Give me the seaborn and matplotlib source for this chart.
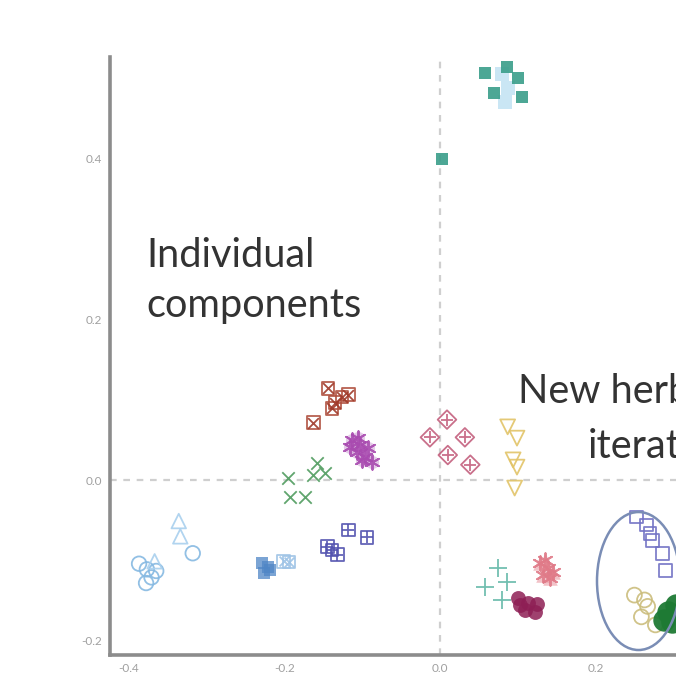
import matplotlib
matplotlib.use("Agg")
import matplotlib.pyplot as plt
import seaborn as sns
from matplotlib.patches import Ellipse

sns.set_style("white")
plt.rcParams['font.family'] = ['Lato', 'DejaVu Sans']

# ---- data ----
teal_sq_x = [0.058, 0.086, 0.100, 0.069, 0.105, 0.003]
teal_sq_y = [0.506, 0.513, 0.499, 0.481, 0.476, 0.399]
sky_top_x = [0.080, 0.087, 0.083]
sky_top_y = [0.505, 0.487, 0.470]
lb_circ_x = [-0.387, -0.377, -0.365, -0.371, -0.378, -0.318]
lb_circ_y = [-0.104, -0.111, -0.113, -0.121, -0.128, -0.091]
lb_tri_x = [-0.336, -0.334, -0.367]
lb_tri_y = [-0.051, -0.070, -0.101]
blue_sq_x = [-0.229, -0.221, -0.226, -0.219]
blue_sq_y = [-0.103, -0.108, -0.116, -0.112]
pale_sqx_x = [-0.201, -0.194]
pale_sqx_y = [-0.101, -0.102]
brown_x = [-0.144, -0.126, -0.135, -0.118, -0.139, -0.163]
brown_y = [0.114, 0.103, 0.096, 0.106, 0.089, 0.071]
mag_x = [-0.113, -0.103, -0.093, -0.107, -0.096, -0.087, -0.100, -0.116, -0.105]
mag_y = [0.050, 0.043, 0.040, 0.035, 0.029, 0.022, 0.025, 0.041, 0.052]
green_x = [-0.195, -0.158, -0.148, -0.163, -0.193, -0.174]
green_y = [0.002, 0.021, 0.009, 0.006, -0.021, -0.021]
indigo_x = [-0.139, -0.145, -0.132, -0.118, -0.094]
indigo_y = [-0.087, -0.083, -0.093, -0.062, -0.071]
pink_x = [0.009, -0.013, 0.032, 0.010, 0.039]
pink_y = [0.075, 0.053, 0.053, 0.031, 0.019]
gold_x = [0.087, 0.099, 0.094, 0.099, 0.096]
gold_y = [0.066, 0.052, 0.025, 0.016, -0.010]
tealp_x = [0.075, 0.086, 0.058, 0.080]
tealp_y = [-0.109, -0.127, -0.133, -0.149]
salmon_x = [0.129, 0.139, 0.145, 0.132, 0.141, 0.135]
salmon_y = [-0.103, -0.109, -0.114, -0.118, -0.122, -0.099]
maroon_x = [0.100, 0.113, 0.125, 0.109, 0.122, 0.103]
maroon_y = [-0.147, -0.153, -0.154, -0.161, -0.164, -0.155]
purple_x = [0.253, 0.266, 0.270, 0.273, 0.286, 0.290]
purple_y = [-0.046, -0.056, -0.066, -0.075, -0.091, -0.112]
khaki_x = [0.250, 0.263, 0.267, 0.259, 0.277]
khaki_y = [-0.143, -0.149, -0.157, -0.170, -0.180]
dgreen_x = [0.293, 0.304, 0.298, 0.288]
dgreen_y = [-0.164, -0.155, -0.176, -0.174]

xticks = [-0.4, -0.2, 0.0, 0.2]
yticks = [-0.2, 0.0, 0.2, 0.4]

fig = plt.figure(figsize=(6.76, 6.76), dpi=100)
ax = fig.add_axes([110/676, 1-655/676, 1-110/676, (655-57)/676])
ax.set_xlim(-0.4244, 0.3035)
ax.set_ylim(-0.2174, 0.5255)

ax.axhline(0, color='#cfcfcf', lw=1.6, ls=(0, (3, 3)), zorder=0)
ax.axvline(0, color='#cfcfcf', lw=1.6, ls=(0, (3, 3)), zorder=0)

def filled(x, y, m, c, s=70, a=0.9):
    sns.scatterplot(x=x, y=y, marker=m, s=s, color=c, alpha=a, linewidth=0, ax=ax)

def hollow(x, y, m, c, s=70, lw=1.3, a=0.9):
    sns.scatterplot(x=x, y=y, marker=m, s=s, facecolors='none', edgecolor=c,
                    linewidth=lw, alpha=a, ax=ax)

def lines(x, y, m, c, s=70, lw=1.3, a=0.9):
    sns.scatterplot(x=x, y=y, marker=m, s=s, color=c, linewidth=lw, alpha=a, ax=ax)

filled(sky_top_x, sky_top_y, 's', '#b4dcf0', s=90, a=0.7)
filled(teal_sq_x, teal_sq_y, 's', '#3a9e8a', s=85)
hollow(lb_circ_x, lb_circ_y, 'o', '#86b9e2', s=110)
hollow(lb_tri_x, lb_tri_y, '^', '#a9d0ee', s=110)
filled(blue_sq_x, blue_sq_y, 's', '#4f86c6', s=80, a=0.75)
hollow(pale_sqx_x, pale_sqx_y, 's', '#9ec3e6', s=80)
lines(pale_sqx_x, pale_sqx_y, 'x', '#9ec3e6', s=50)
hollow(brown_x, brown_y, 's', '#b0503e', s=85)
lines(brown_x, brown_y, 'x', '#a03a2a', s=60)
filled(mag_x, mag_y, 'o', '#c58bcc', s=90, a=0.45)
lines(mag_x, mag_y, (6, 2, 0), '#a94bb0', s=110, lw=1.4)
lines(green_x, green_y, 'x', '#4f9b5e', s=80)
hollow(indigo_x, indigo_y, 's', '#5454b0', s=85)
lines(indigo_x, indigo_y, '+', '#5454b0', s=65)
hollow(pink_x, pink_y, 'D', '#c4607e', s=90)
lines(pink_x, pink_y, '+', '#c4607e', s=65)
hollow(gold_x, gold_y, 'v', '#e2c468', s=115)
lines(tealp_x, tealp_y, '+', '#63b8a8', s=150)
filled(salmon_x, salmon_y, '^', '#e8909b', s=110, a=0.55)
lines(salmon_x, salmon_y, (6, 2, 0), '#e07a88', s=110, lw=1.4)
filled(maroon_x, maroon_y, 'o', '#8e1f55', s=115, a=0.85)
hollow(purple_x, purple_y, 's', '#7272c4', s=85)
hollow(khaki_x, khaki_y, 'o', '#cbbd7c', s=115)
filled(dgreen_x, dgreen_y, 'o', '#1e7a34', s=260, a=0.95)

ax.add_patch(Ellipse((0.2553, -0.1255), 0.1068, 0.1714, fill=False,
                     edgecolor='#7a8db5', lw=1.8))

tkw = dict(fontsize=28.6, color='#333333', va='baseline', ha='left')
ax.text(-0.377, 0.2646, 'Individual', **tkw)
ax.text(-0.377, 0.2025, 'components', **tkw)
ax.text(0.1003, 0.0957, 'New herbal', **tkw)
ax.text(0.1904, 0.0273, 'iterations', **tkw)

ax.set_xticks(xticks)
ax.set_xticklabels([f"{v:.1f}" for v in xticks])
ax.set_yticks(yticks)
ax.set_yticklabels([f"{v:.1f}" for v in yticks])
ax.tick_params(axis='both', colors='#8c8c8c', labelcolor='#a0a0a0',
               labelsize=8.5, length=3, width=1, direction='out', pad=3)
for side in ['top', 'right']:
    ax.spines[side].set_visible(False)
for side in ['left', 'bottom']:
    ax.spines[side].set_color('#8c8c8c')
    ax.spines[side].set_linewidth(2.6)
ax.set_xlabel('')
ax.set_ylabel('')

fig.savefig('out.png', dpi=100)
